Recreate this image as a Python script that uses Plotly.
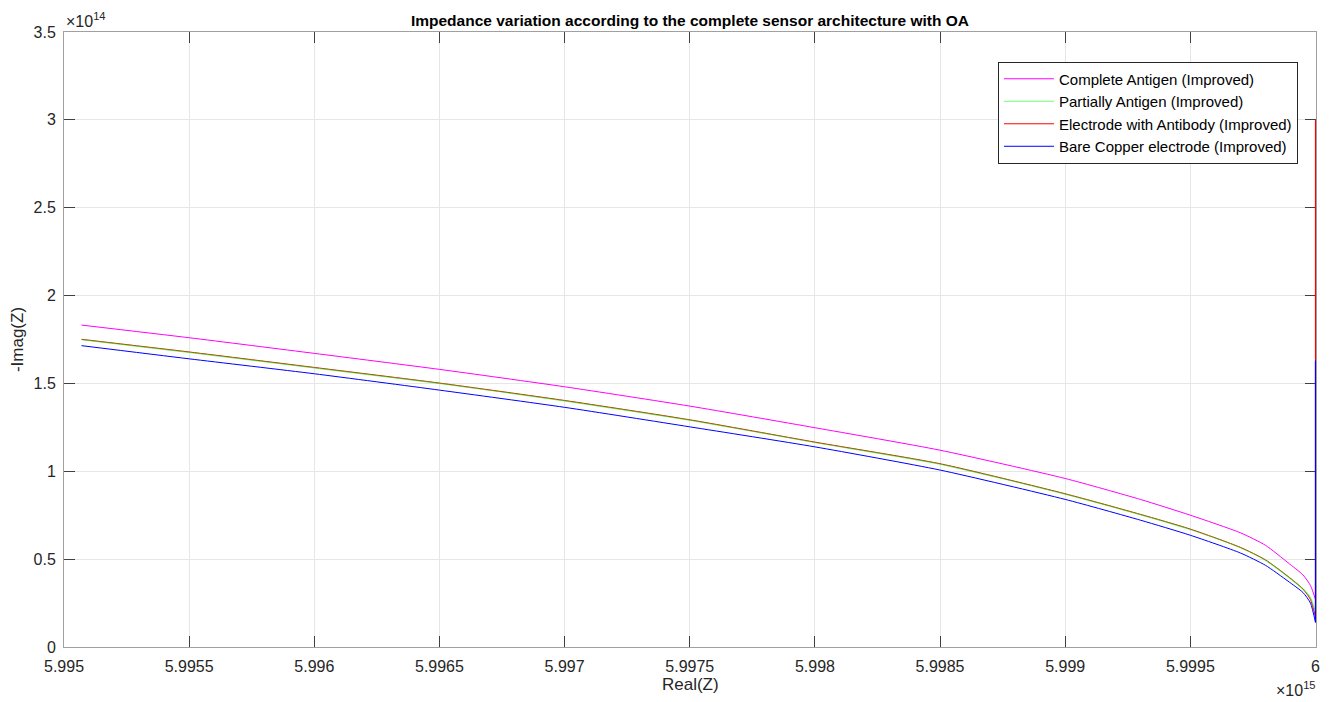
import plotly.graph_objects as go

# x in units of 1e15, y in units of 1e14 (MATLAB-style axis exponents)
x_pts = [5.99507, 5.9955, 5.996, 5.9965, 5.997, 5.9975, 5.998, 5.9985, 5.999,
         5.9993, 5.9995, 5.9997, 5.9998, 5.99989, 5.99995, 5.99998, 6.0]

complete_antigen = [1.832, 1.760, 1.671, 1.580, 1.481, 1.371, 1.248, 1.120, 0.959,
                    0.840, 0.750, 0.650, 0.579, 0.480, 0.410, 0.350, 0.27]
partial_antigen = [1.749, 1.677, 1.589, 1.500, 1.401, 1.291, 1.164, 1.041, 0.870,
                   0.753, 0.669, 0.565, 0.494, 0.400, 0.330, 0.280, 0.20]
antibody = [1.751, 1.679, 1.591, 1.502, 1.403, 1.293, 1.166, 1.043, 0.872,
            0.755, 0.671, 0.567, 0.496, 0.402, 0.330, 0.270, 0.17]
bare_copper = [1.715, 1.640, 1.555, 1.462, 1.364, 1.253, 1.139, 1.007, 0.840,
               0.722, 0.636, 0.535, 0.465, 0.375, 0.310, 0.250, 0.14]

# final low-frequency points (at Real(Z) = 6e15)
antibody_last = 3.0
bare_copper_last = 1.63

names = ["Complete Antigen (Improved)", "Partially Antigen (Improved)",
         "Electrode with Antibody (Improved)", "Bare Copper electrode (Improved)"]
colors = ["#ff00ff", "#00ee00", "#ff0000", "#0000ff"]

x_ticks = [5.995, 5.9955, 5.996, 5.9965, 5.997, 5.9975, 5.998, 5.9985, 5.999, 5.9995, 6.0]
x_tick_text = ["5.995", "5.9955", "5.996", "5.9965", "5.997", "5.9975", "5.998",
               "5.9985", "5.999", "5.9995", "6"]
y_ticks = [0, 0.5, 1, 1.5, 2, 2.5, 3, 3.5]
y_tick_text = ["0", "0.5", "1", "1.5", "2", "2.5", "3", "3.5"]

FONT = "Liberation Sans, Arial, sans-serif"
TXT = "#262626"
LINE = dict(width=1, shape="spline", smoothing=0.6)

fig = go.Figure()
fig.add_trace(go.Scatter(x=x_pts, y=complete_antigen, mode="lines", name=names[0],
                         legendrank=1, line=dict(color=colors[0], **LINE)))
fig.add_trace(go.Scatter(x=x_pts, y=antibody, mode="lines",
                         name=names[2], legendrank=3, legendgroup="ab",
                         line=dict(color=colors[2], **LINE)))
fig.add_trace(go.Scatter(x=[x_pts[-1], x_pts[-1]], y=[antibody[-1], antibody_last],
                         mode="lines", name=names[2], legendgroup="ab", showlegend=False,
                         line=dict(color=colors[2], width=1.2)))
fig.add_trace(go.Scatter(x=x_pts, y=partial_antigen, mode="lines", name=names[1],
                         legendrank=2, opacity=0.55,
                         line=dict(color=colors[1], width=1.2, shape="spline", smoothing=0.6)))
fig.add_trace(go.Scatter(x=x_pts, y=bare_copper, mode="lines",
                         name=names[3], legendrank=4, legendgroup="bc",
                         line=dict(color=colors[3], **LINE)))
fig.add_trace(go.Scatter(x=[x_pts[-1], x_pts[-1]], y=[bare_copper[-1], bare_copper_last],
                         mode="lines", name=names[3], legendgroup="bc", showlegend=False,
                         line=dict(color=colors[3], width=1.2)))

axis_common = dict(
    showgrid=True, gridcolor="#e6e6e6", gridwidth=1,
    showline=True, linecolor="#a0a0a0", linewidth=1, mirror="ticks",
    ticks="inside", ticklen=11, tickcolor="#404040", tickwidth=1,
    zeroline=False, layer="below traces", automargin=False,
    tickfont=dict(family=FONT, size=16, color=TXT),
)

# page body has an 8px margin: compensate so the plot area lands at 64..1316 x 32..647
fig.update_layout(
    width=1325, height=694,
    paper_bgcolor="white", plot_bgcolor="white",
    margin=dict(l=56, r=17, t=24, b=55),
    title=dict(text="<b>Impedance variation according to the complete sensor architecture with OA</b>",
               x=0.5, xref="paper", xanchor="center",
               y=1 - 13 / 694, yref="container", yanchor="middle",
               font=dict(family=FONT, size=15.5, color="#000000")),
    xaxis=dict(range=[5.995, 6.000002], tickvals=x_ticks, ticktext=x_tick_text,
               ticklabelstandoff=5, **axis_common),
    yaxis=dict(range=[0, 3.5], tickvals=y_ticks, ticktext=y_tick_text,
               title=dict(text="-Imag(Z)", font=dict(family=FONT, size=17, color=TXT), standoff=16),
               ticklabelstandoff=4, **axis_common),
    legend=dict(x=0.9856, y=0.952, xanchor="right", yanchor="top",
                bgcolor="white", bordercolor="#262626", borderwidth=1,
                font=dict(family=FONT, size=15, color="#000000"),
                itemwidth=50, tracegroupgap=0),
    showlegend=True,
    annotations=[
        dict(text="Real(Z)", xref="paper", yref="paper", x=0.5, y=0,
             xanchor="center", yanchor="middle", showarrow=False, yshift=-37,
             font=dict(family=FONT, size=17, color=TXT)),
        dict(text="×10<sup>14</sup>", xref="paper", yref="paper", x=0, y=1,
             xanchor="left", yanchor="bottom", showarrow=False, yshift=0,
             font=dict(family=FONT, size=16, color=TXT)),
        dict(text="×10<sup>15</sup>", xref="paper", yref="paper", x=1, y=0,
             xanchor="right", yanchor="top", showarrow=False, yshift=-30, xshift=2,
             font=dict(family=FONT, size=16, color=TXT)),
    ],
)

fig.write_html("out.html")
